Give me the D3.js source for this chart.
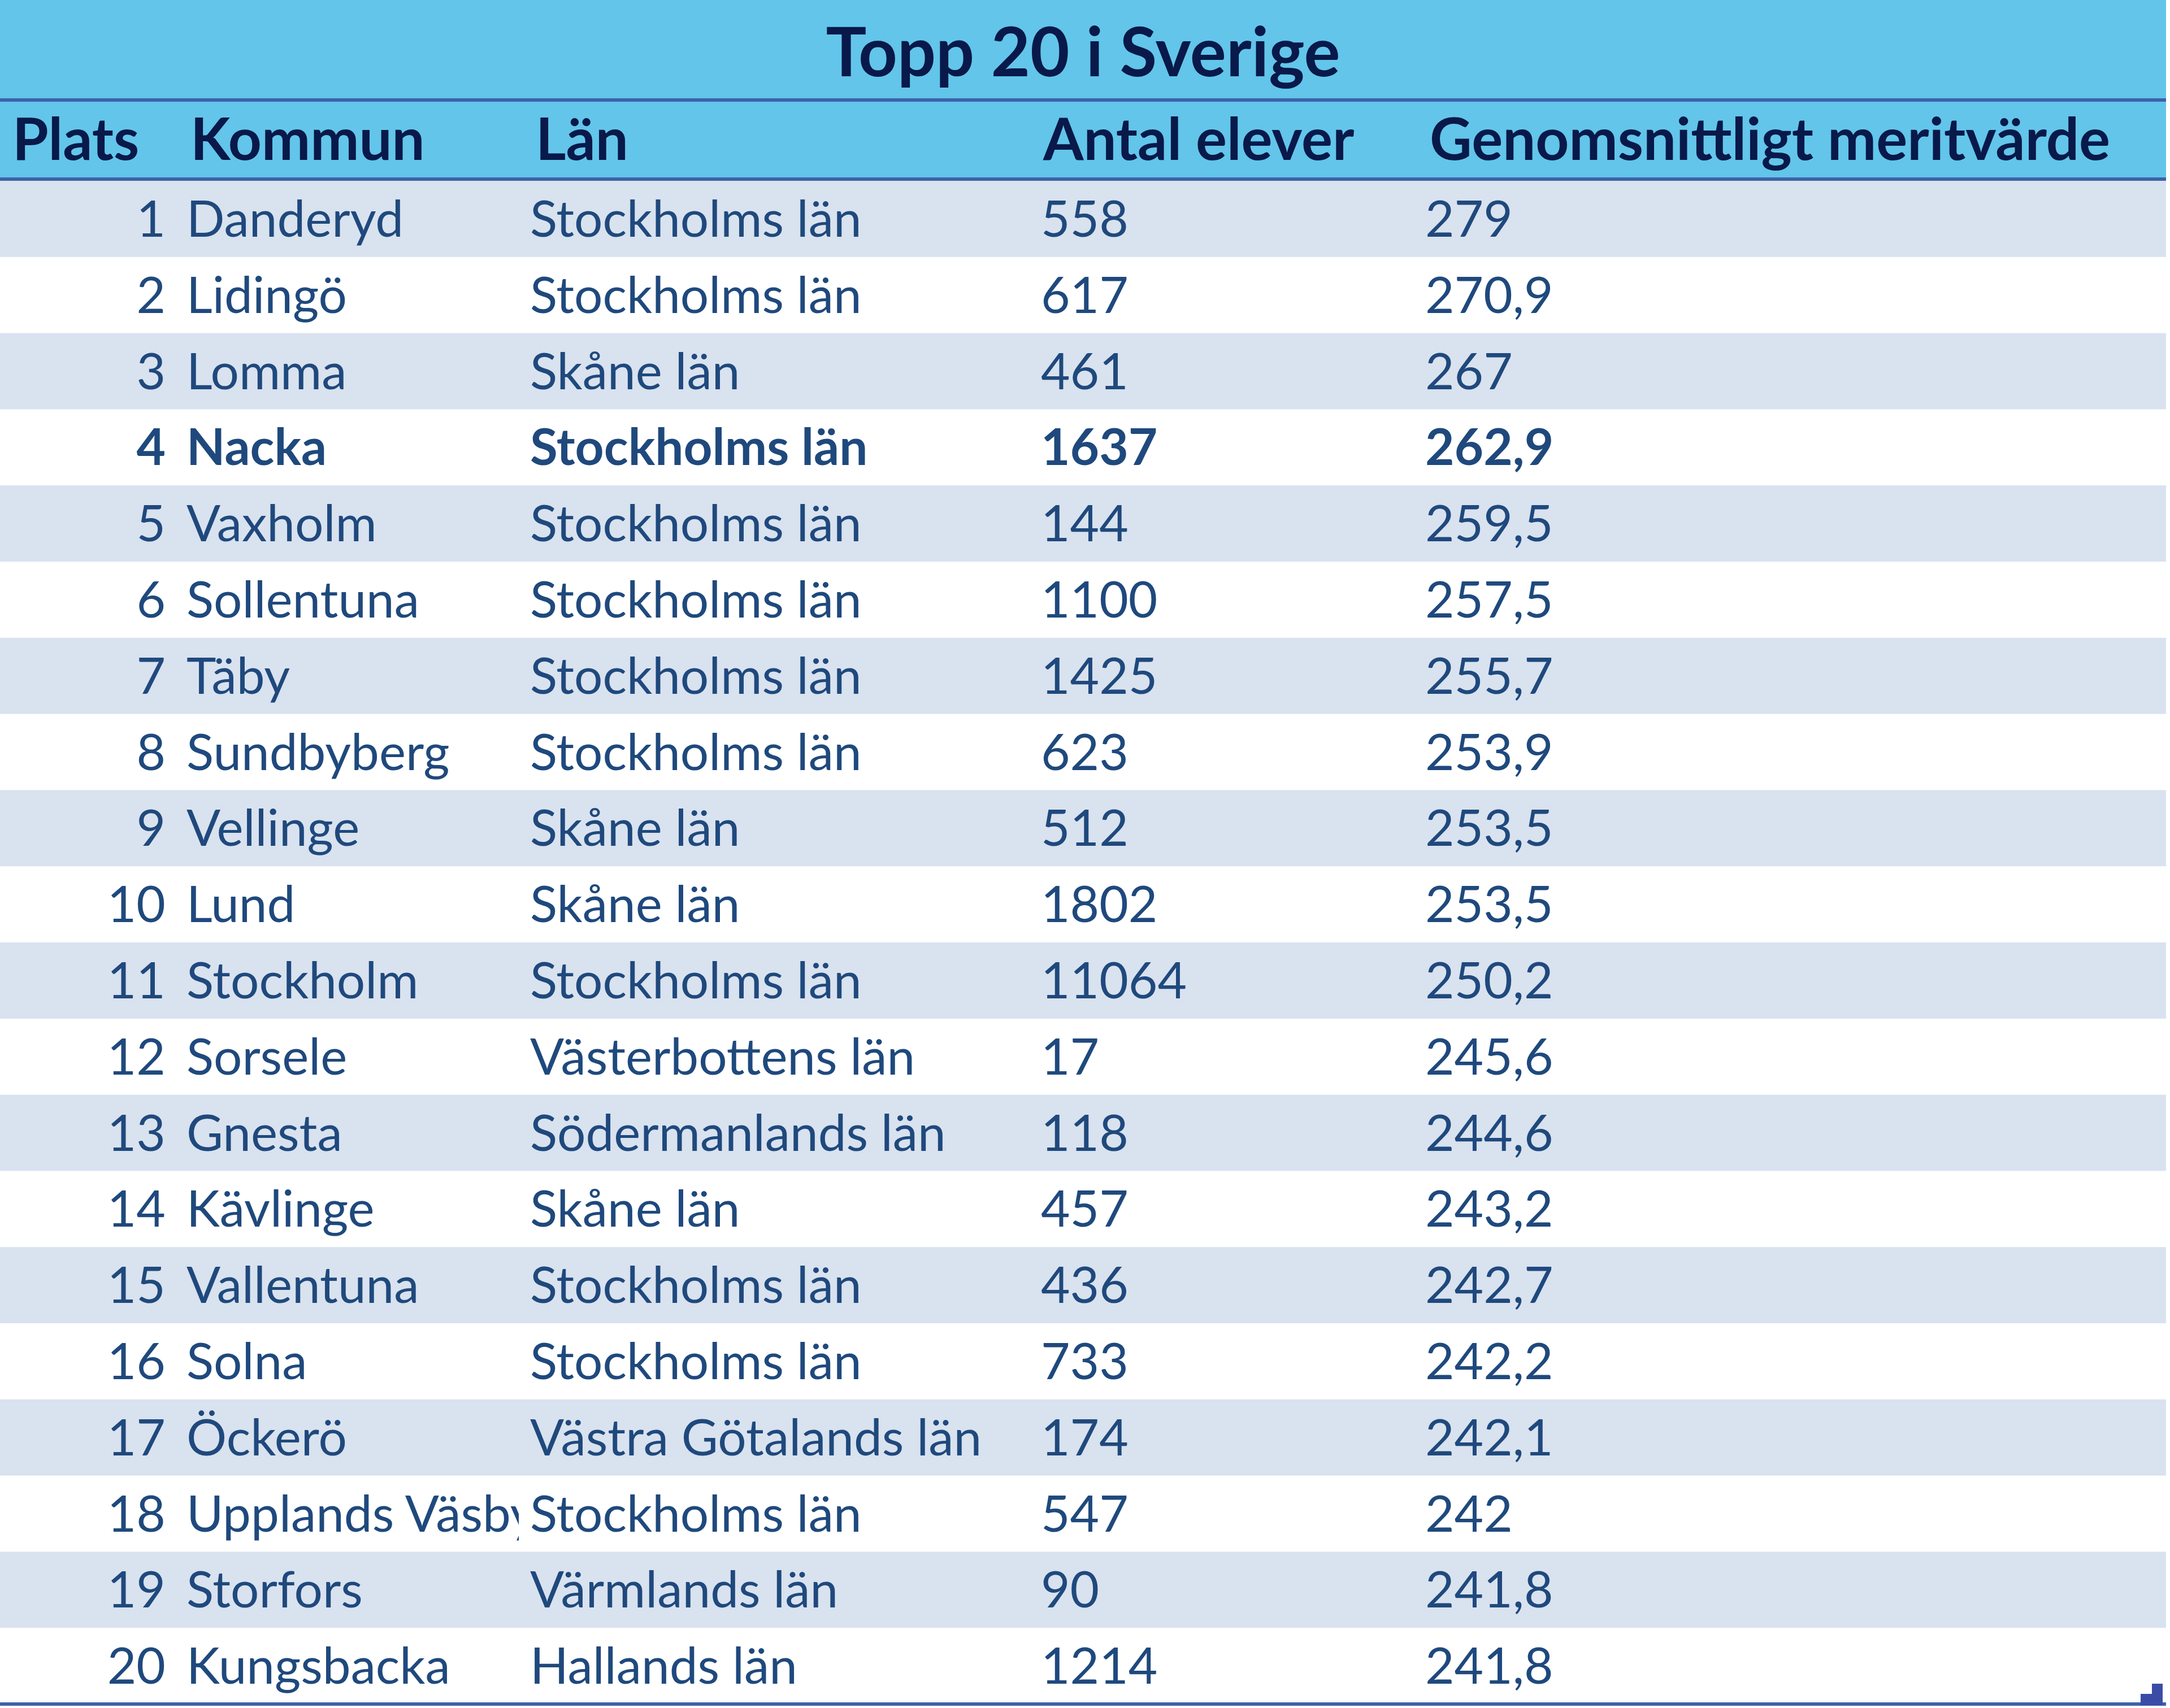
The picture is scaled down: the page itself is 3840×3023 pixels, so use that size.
<!DOCTYPE html>
<html>
<head>
<meta charset="utf-8">
<script src="https://cdn.jsdelivr.net/npm/d3@7"></script>
<style>
  body { margin: 0; background: #fff; }
  svg { display: block; font-family: Lato, "Open Sans", sans-serif; }
</style>
</head>
<body>
<svg id="chart"></svg>
<script>
"use strict";

var title = "Topp 20 i Sverige",
    headers = ["Plats", "Kommun", "Län", "Antal elever", "Genomsnittligt meritvärde"],
    plats = [1, 2, 3, 4, 5, 6, 7, 8, 9, 10, 11, 12, 13, 14, 15, 16, 17, 18, 19, 20],
    kommuner = ["Danderyd", "Lidingö", "Lomma", "Nacka", "Vaxholm", "Sollentuna", "Täby",
        "Sundbyberg", "Vellinge", "Lund", "Stockholm", "Sorsele", "Gnesta", "Kävlinge",
        "Vallentuna", "Solna", "Öckerö", "Upplands Väsby", "Storfors", "Kungsbacka"],
    lan = ["Stockholms län", "Stockholms län", "Skåne län", "Stockholms län", "Stockholms län",
        "Stockholms län", "Stockholms län", "Stockholms län", "Skåne län", "Skåne län",
        "Stockholms län", "Västerbottens län", "Södermanlands län", "Skåne län", "Stockholms län",
        "Stockholms län", "Västra Götalands län", "Stockholms län", "Värmlands län", "Hallands län"],
    antalElever = [558, 617, 461, 1637, 144, 1100, 1425, 623, 512, 1802, 11064, 17, 118, 457,
        436, 733, 174, 547, 90, 1214],
    meritvarde = [279, 270.9, 267, 262.9, 259.5, 257.5, 255.7, 253.9, 253.5, 253.5, 250.2,
        245.6, 244.6, 243.2, 242.7, 242.2, 242.1, 242, 241.8, 241.8],
    highlighted = 4,

    width = 3840,
    height = 3023,
    tableWidth = 3833,
    titleBottom = 177,
    headerBottom = 317,
    bodyTop = 320,
    bodyBottom = 3016,
    ruleWidth = 6,

    headerFill = "#63c5ea",
    stripeFill = "#d9e2ef",
    ruleColour = "#3d62a8",
    headerText = "#08194a",
    bodyText = "#1f497d",

    // x of each column, anchor used for its text
    columns = [
        { x: 293, headerX: 22, anchor: "end" },
        { x: 330, headerX: 337, anchor: "start", clip: 918 },
        { x: 938, headerX: 948, anchor: "start" },
        { x: 1842, headerX: 1846, anchor: "start" },
        { x: 2522, headerX: 2530, anchor: "start" }
    ];

var svSE = d3.formatLocale({ decimal: ",", thousands: "\u00a0", grouping: [3], currency: ["", " kr"] }),
    meritFormat = svSE.format(".4~g");

var rows = plats.map(function(p, i) {
    return {
        plats: p,
        cells: [String(p), kommuner[i], lan[i], String(antalElever[i]), meritFormat(meritvarde[i])]
    };
});

var y = d3.scaleBand()
    .domain(plats)
    .range([bodyTop, bodyBottom])
    .padding(0);

var svg = d3.select("#chart")
    .attr("width", width)
    .attr("height", height)
    .attr("viewBox", [0, 0, width, height]);

// the Kommun cell cuts long names off where the Län column starts
svg.append("defs")
    .append("clipPath")
    .attr("id", "kommun-clip")
    .append("rect")
    .attr("x", 0)
    .attr("y", -300)
    .attr("width", columns[1].clip)
    .attr("height", 600);

// header band
svg.append("rect")
    .attr("x", 0)
    .attr("y", 0)
    .attr("width", tableWidth)
    .attr("height", headerBottom)
    .attr("fill", headerFill);

// striped body rows
svg.append("g")
    .selectAll("rect")
    .data(rows.filter(function(d, i) { return i % 2 === 0; }))
    .join("rect")
    .attr("x", 0)
    .attr("y", function(d) { return y(d.plats); })
    .attr("width", tableWidth)
    .attr("height", y.bandwidth())
    .attr("fill", stripeFill);

// rules
svg.append("g")
    .selectAll("rect")
    .data([titleBottom, headerBottom, bodyBottom])
    .join("rect")
    .attr("x", 0)
    .attr("y", function(d) { return d - ruleWidth / 2; })
    .attr("width", tableWidth)
    .attr("height", ruleWidth)
    .attr("fill", ruleColour);

svg.append("text")
    .attr("x", tableWidth / 2)
    .attr("y", 135)
    .attr("text-anchor", "middle")
    .attr("font-size", 120)
    .attr("font-weight", 700)
    .attr("fill", headerText)
    .text(title);

svg.append("g")
    .selectAll("text")
    .data(headers)
    .join("text")
    .attr("x", function(d, i) { return columns[i].headerX; })
    .attr("y", 283)
    .attr("font-size", 103)
    .attr("font-weight", 700)
    .attr("fill", headerText)
    .text(function(d) { return d; });

var rowGroups = svg.append("g")
    .selectAll("g")
    .data(rows)
    .join("g")
    .attr("transform", function(d) { return "translate(0," + (y(d.plats) + 99) + ")"; })
    .attr("font-weight", function(d) { return d.plats === highlighted ? 700 : 400; });

rowGroups.selectAll("text")
    .data(function(d) { return d.cells; })
    .join("text")
    .attr("x", function(d, i) { return columns[i].x; })
    .attr("text-anchor", function(d, i) { return columns[i].anchor; })
    .attr("clip-path", function(d, i) { return columns[i].clip ? "url(#kommun-clip)" : null; })
    .attr("font-size", 89)
    .attr("fill", bodyText)
    .text(function(d) { return d; });

// table resize handle in the corner
svg.append("g")
    .attr("fill", "#3b4ca6")
    .selectAll("rect")
    .data([[3808, 2980, 19, 20], [3788, 2998, 39, 20]])
    .join("rect")
    .attr("x", function(d) { return d[0]; })
    .attr("y", function(d) { return d[1]; })
    .attr("width", function(d) { return d[2]; })
    .attr("height", function(d) { return d[3]; });
</script>
</body>
</html>
